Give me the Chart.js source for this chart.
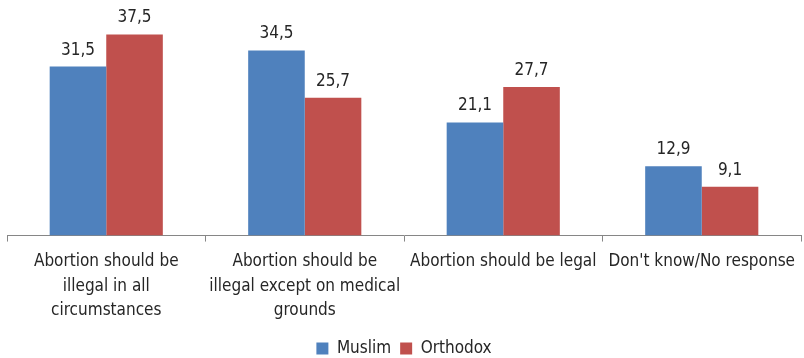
<!DOCTYPE html>
<html>
<head>
<meta charset="utf-8">
<script src="https://cdn.jsdelivr.net/npm/chart.js@4.4.0/dist/chart.umd.min.js"></script>
<style>
  html, body { margin: 0; padding: 0; background: #fff; }
  #wrap { width: 804px; height: 358px; position: relative; }
</style>
</head>
<body>
<div id="wrap"><canvas id="myChart"></canvas></div>
<script>
// data
const categories = [
  ['Abortion should be', 'illegal in all', 'circumstances'],
  ['Abortion should be', 'illegal except on medical', 'grounds'],
  ['Abortion should be legal'],
  ["Don't know/No response"]
];
const muslim = [31.5, 34.5, 21.1, 12.9];
const orthodox = [37.5, 25.7, 27.7, 9.1];

const FONT = '"DejaVu Sans Condensed", "DejaVu Sans", sans-serif';

// draws the value above each bar (no datalabels plugin available offline)
const valueLabels = {
  id: 'valueLabels',
  afterDatasetsDraw(chart) {
    const ctx = chart.ctx;
    ctx.save();
    ctx.font = '17px ' + FONT;
    ctx.fillStyle = '#262626';
    ctx.textAlign = 'center';
    ctx.textBaseline = 'bottom';
    chart.data.datasets.forEach((ds, i) => {
      chart.getDatasetMeta(i).data.forEach((bar, j) => {
        ctx.fillText(ds.data[j].toFixed(1).replace('.', ','), bar.x, bar.y - 8);
      });
    });
    ctx.restore();
  }
};

const config = {
  type: 'bar',
  data: {
    labels: categories,
    datasets: [
      {
        label: 'Muslim',
        data: muslim,
        backgroundColor: '#4F81BD',
        categoryPercentage: 0.57,
        barPercentage: 1.0
      },
      {
        label: 'Orthodox',
        data: orthodox,
        backgroundColor: '#C0504D',
        categoryPercentage: 0.57,
        barPercentage: 1.0
      }
    ]
  },
  options: {
    responsive: true,
    maintainAspectRatio: false,
    animation: false,
    layout: {
      padding: { left: 7, right: 3, top: 21, bottom: -9 }
    },
    plugins: {
      tooltip: { enabled: false },
      legend: {
        position: 'bottom',
        labels: {
          font: { family: FONT, size: 17 },
          color: '#262626',
          boxWidth: 12,
          boxHeight: 12,
          padding: 9
        }
      }
    },
    scales: {
      x: {
        grid: {
          display: true,
          offset: true,
          drawOnChartArea: false,
          drawTicks: true,
          tickLength: 6,
          color: '#868686'
        },
        border: { display: true, color: '#868686' },
        ticks: {
          autoSkip: false,
          maxRotation: 0,
          color: '#262626',
          font: { family: FONT, size: 17, lineHeight: 1.44 },
          padding: 8
        }
      },
      y: {
        display: false,
        min: 0,
        max: 40
      }
    }
  },
  plugins: [valueLabels]
};

const myChart = new Chart(document.getElementById('myChart'), config);
</script>
</body>
</html>
